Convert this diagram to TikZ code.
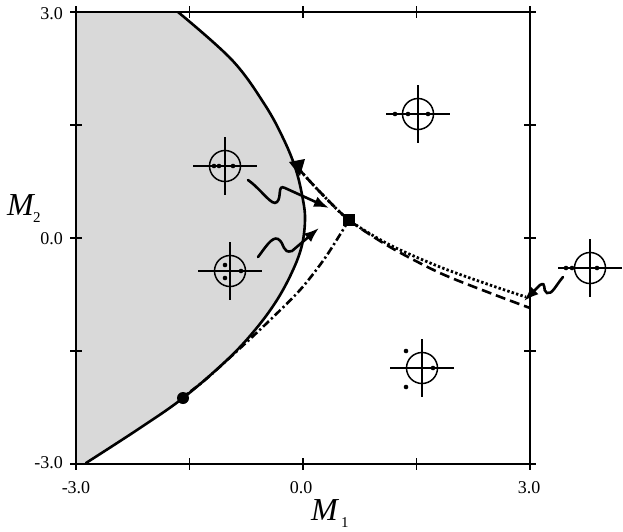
\documentclass[tikz,border=0pt]{standalone}
\usepackage{fontspec}
\setmainfont{Liberation Serif}
\usetikzlibrary{arrows.meta}
\begin{document}
\begin{tikzpicture}[x=1pt,y=-1pt,
  axis/.style={line width=1.6pt},
  bound/.style={line width=2.6pt, line join=round, line cap=round},
  pp/.style={line width=1.5pt},
  wig/.style={line width=2.6pt, line cap=round, -{Latex[length=15pt,width=11pt]}},
  dotcurve/.style={line width=2.8pt, dash pattern=on 2.4pt off 2.2pt},
  dashcurve/.style={line width=2.6pt, dash pattern=on 10pt off 5pt},
  dashdotcurve/.style={line width=2.6pt, dash pattern=on 8pt off 3pt on 2.2pt off 3pt},
  num/.style={font=\fontsize{18}{18}\selectfont, inner sep=0pt},
  lab/.style={font=\fontsize{32}{32}\selectfont\itshape, inner sep=0pt},
  sub/.style={font=\fontsize{15}{15}\selectfont, inner sep=0pt},
  portrait/.pic={
    \draw[pp] (-32,0) -- (32,0) (0,-29) -- (0,29);
    \draw[pp] (0,0) circle[radius=15.5];
  },
]
\useasboundingbox (0,0) rectangle (623,531);

% shaded region
\fill[black!15] (76,12) -- (178,12) -- plot[smooth, tension=0.6] coordinates {
  (178,12) (232,60) (265,105) (284,140) (296,170) (303,200) (305,220) (302,245)
  (293,270) (277,300) (255,330) (227,360) (183,398) (140,428) (86,463)}
  -- (86,464) -- (76,464) -- cycle;

% axes box
\draw[axis] (76,12) rectangle (530,464);
\foreach \xx in {76,189.5,303,416.5,530} {
  \draw[axis] (\xx,6) -- (\xx,18);
  \draw[axis] (\xx,458) -- (\xx,470);
}
\foreach \yy in {12,125,238,351,464} {
  \draw[axis] (70,\yy) -- (82,\yy);
  \draw[axis] (524,\yy) -- (536,\yy);
}

% tick labels
\node[num, anchor=east] (y3) at (63,14) {3.0};
\node[num, anchor=east] (y0) at (63,239) {0.0};
\node[num, anchor=east] (ym3) at (63,463) {-3.0};
\node[num] (xm3) at (76,488) {-3.0};
\node[num] (x0) at (301,488) {0.0};
\node[num] (x3) at (529,488) {3.0};

% axis labels
\node[lab, anchor=base west] (m1) at (311,520) {M};
\node[sub, anchor=base west] (m1s) at (341,527) {1};
\node[lab, anchor=base west] (m2) at (7,215) {M};
\node[sub, anchor=base west] (m2s) at (33,222) {2};

% boundary curve
\draw[bound] plot[smooth, tension=0.6] coordinates {
  (178,12) (232,60) (265,105) (284,140) (296,170) (303,200) (305,220) (302,245)
  (293,270) (277,300) (255,330) (227,360) (183,398) (140,428) (86,463)};

% bifurcation curves
\draw[dotcurve] plot[smooth] coordinates {(297,167) (320,192) (349,220) (390,245) (440,267) (490,285) (526,297)};
\draw[dashcurve] plot[smooth] coordinates {(297,167) (320,192) (349,220) (390,247) (440,273) (490,293) (530,308)};
\draw[dashdotcurve] plot[smooth] coordinates {(349,220) (325,258) (300,290) (268,322) (236,352) (205,380) (183,397)};

% markers
\fill (183,398) circle[radius=6];
\fill (343,214) rectangle (355,226);
\fill (289,162) -- (305,159) -- (300,176) -- cycle;

% phase portraits
\pic at (225,166) {portrait};
\fill (214,166) circle[radius=2.3] (219,166) circle[radius=2.3] (233,166) circle[radius=2.3];
\pic at (230,271) {portrait};
\fill (225,265) circle[radius=2.3] (225,278) circle[radius=2.3] (241,271) circle[radius=2.3];
\pic at (418,114) {portrait};
\fill (395,114) circle[radius=2.3] (408,114) circle[radius=2.3] (428,114) circle[radius=2.3];
\pic at (422,368) {portrait};
\fill (406,351) circle[radius=2.3] (406,387) circle[radius=2.3] (433,368) circle[radius=2.3];
\pic at (590,268) {portrait};
\fill (566,268) circle[radius=2.3] (572,268) circle[radius=2.3] (597,268) circle[radius=2.3];

% squiggle arrows
\draw[wig] (248,180) .. controls (262,190) and (272,207) .. (277,202)
  .. controls (282,197) and (277,184) .. (285,188) -- (329,208);
\draw[wig] (258,257) .. controls (265,248) and (272,236) .. (278,239)
  .. controls (285,243) and (282,254) .. (292,251) -- (319,228);
\draw[wig] (563,277) .. controls (556,285) and (552,295) .. (547,293)
  .. controls (542,291) and (547,281) .. (540,285) -- (524,301);
\end{tikzpicture}
\end{document}
